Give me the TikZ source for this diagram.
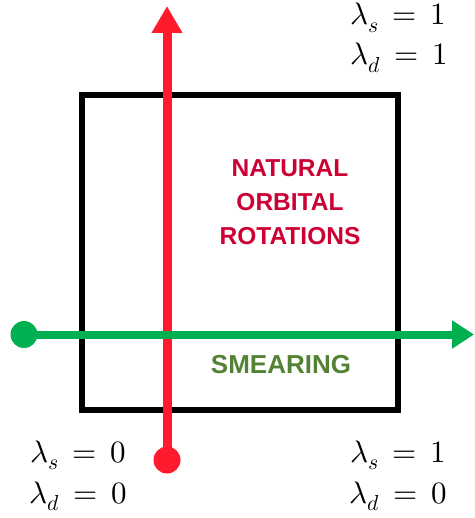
\documentclass[tikz,border=0pt]{standalone}
\usepackage{fontspec}
\usepackage{unicode-math}
\setmathfont{Latin Modern Math}
\setsansfont{Liberation Sans}
\usetikzlibrary{arrows.meta}
\definecolor{axred}{RGB}{255,26,45}
\definecolor{axgreen}{RGB}{0,176,80}
\definecolor{txtred}{RGB}{204,0,51}
\definecolor{txtgreen}{RGB}{84,130,53}
\tikzset{
  frame/.style={draw=black, line width=6.5pt},
  axis/.style={line width=9pt},
  dotnode/.style={circle, inner sep=0pt, minimum size=27pt},
  lbl/.style={anchor=base west, inner sep=0pt, font=\fontsize{31}{36}\selectfont},
  region/.style={align=center, font=\sffamily\bfseries\fontsize{24.5}{34}\selectfont, inner sep=0pt}
}
\newcommand{\lameq}[2]{$\lambda_{#1}\,=\,#2$}
\begin{document}
\begin{tikzpicture}[x=1pt,y=1pt]
\useasboundingbox (0,0) rectangle (474,-518);
% box
\draw[frame] (82,-95) rectangle (398,-410);
% red vertical axis
\node[dotnode, fill=axred] (rs) at (167,-460) {};
\coordinate (rt) at (167,-6);
\draw[axis, draw=axred, -{Triangle[length=27pt,width=29pt]}] (rs.center) -- (rt);
% green horizontal axis
\node[dotnode, fill=axgreen] (gs) at (24,-334.5) {};
\coordinate (gt) at (474,-334.5);
\draw[axis, line width=8pt, draw=axgreen, -{Triangle[length=22pt,width=27pt]}] (gs.center) -- (gt);
% region texts
\node[region, text=txtred] (nor) at (290,-202) {NATURAL\\ORBITAL\\ROTATIONS};
\node[region, text=txtgreen, font=\sffamily\bfseries\fontsize{26}{30}\selectfont] (sm) at (281,-365) {SMEARING};
% corner labels
\node[lbl] (tr1) at (350,-25) {\lameq{s}{1}};
\node[lbl] (tr2) at (350,-65) {\lameq{d}{1}};
\node[lbl] (bl1) at (30,-462) {\lameq{s}{0}};
\node[lbl] (bl2) at (29,-503) {\lameq{d}{0}};
\node[lbl] (br1) at (350,-462) {\lameq{s}{1}};
\node[lbl] (br2) at (349,-503) {\lameq{d}{0}};
\end{tikzpicture}
\end{document}
